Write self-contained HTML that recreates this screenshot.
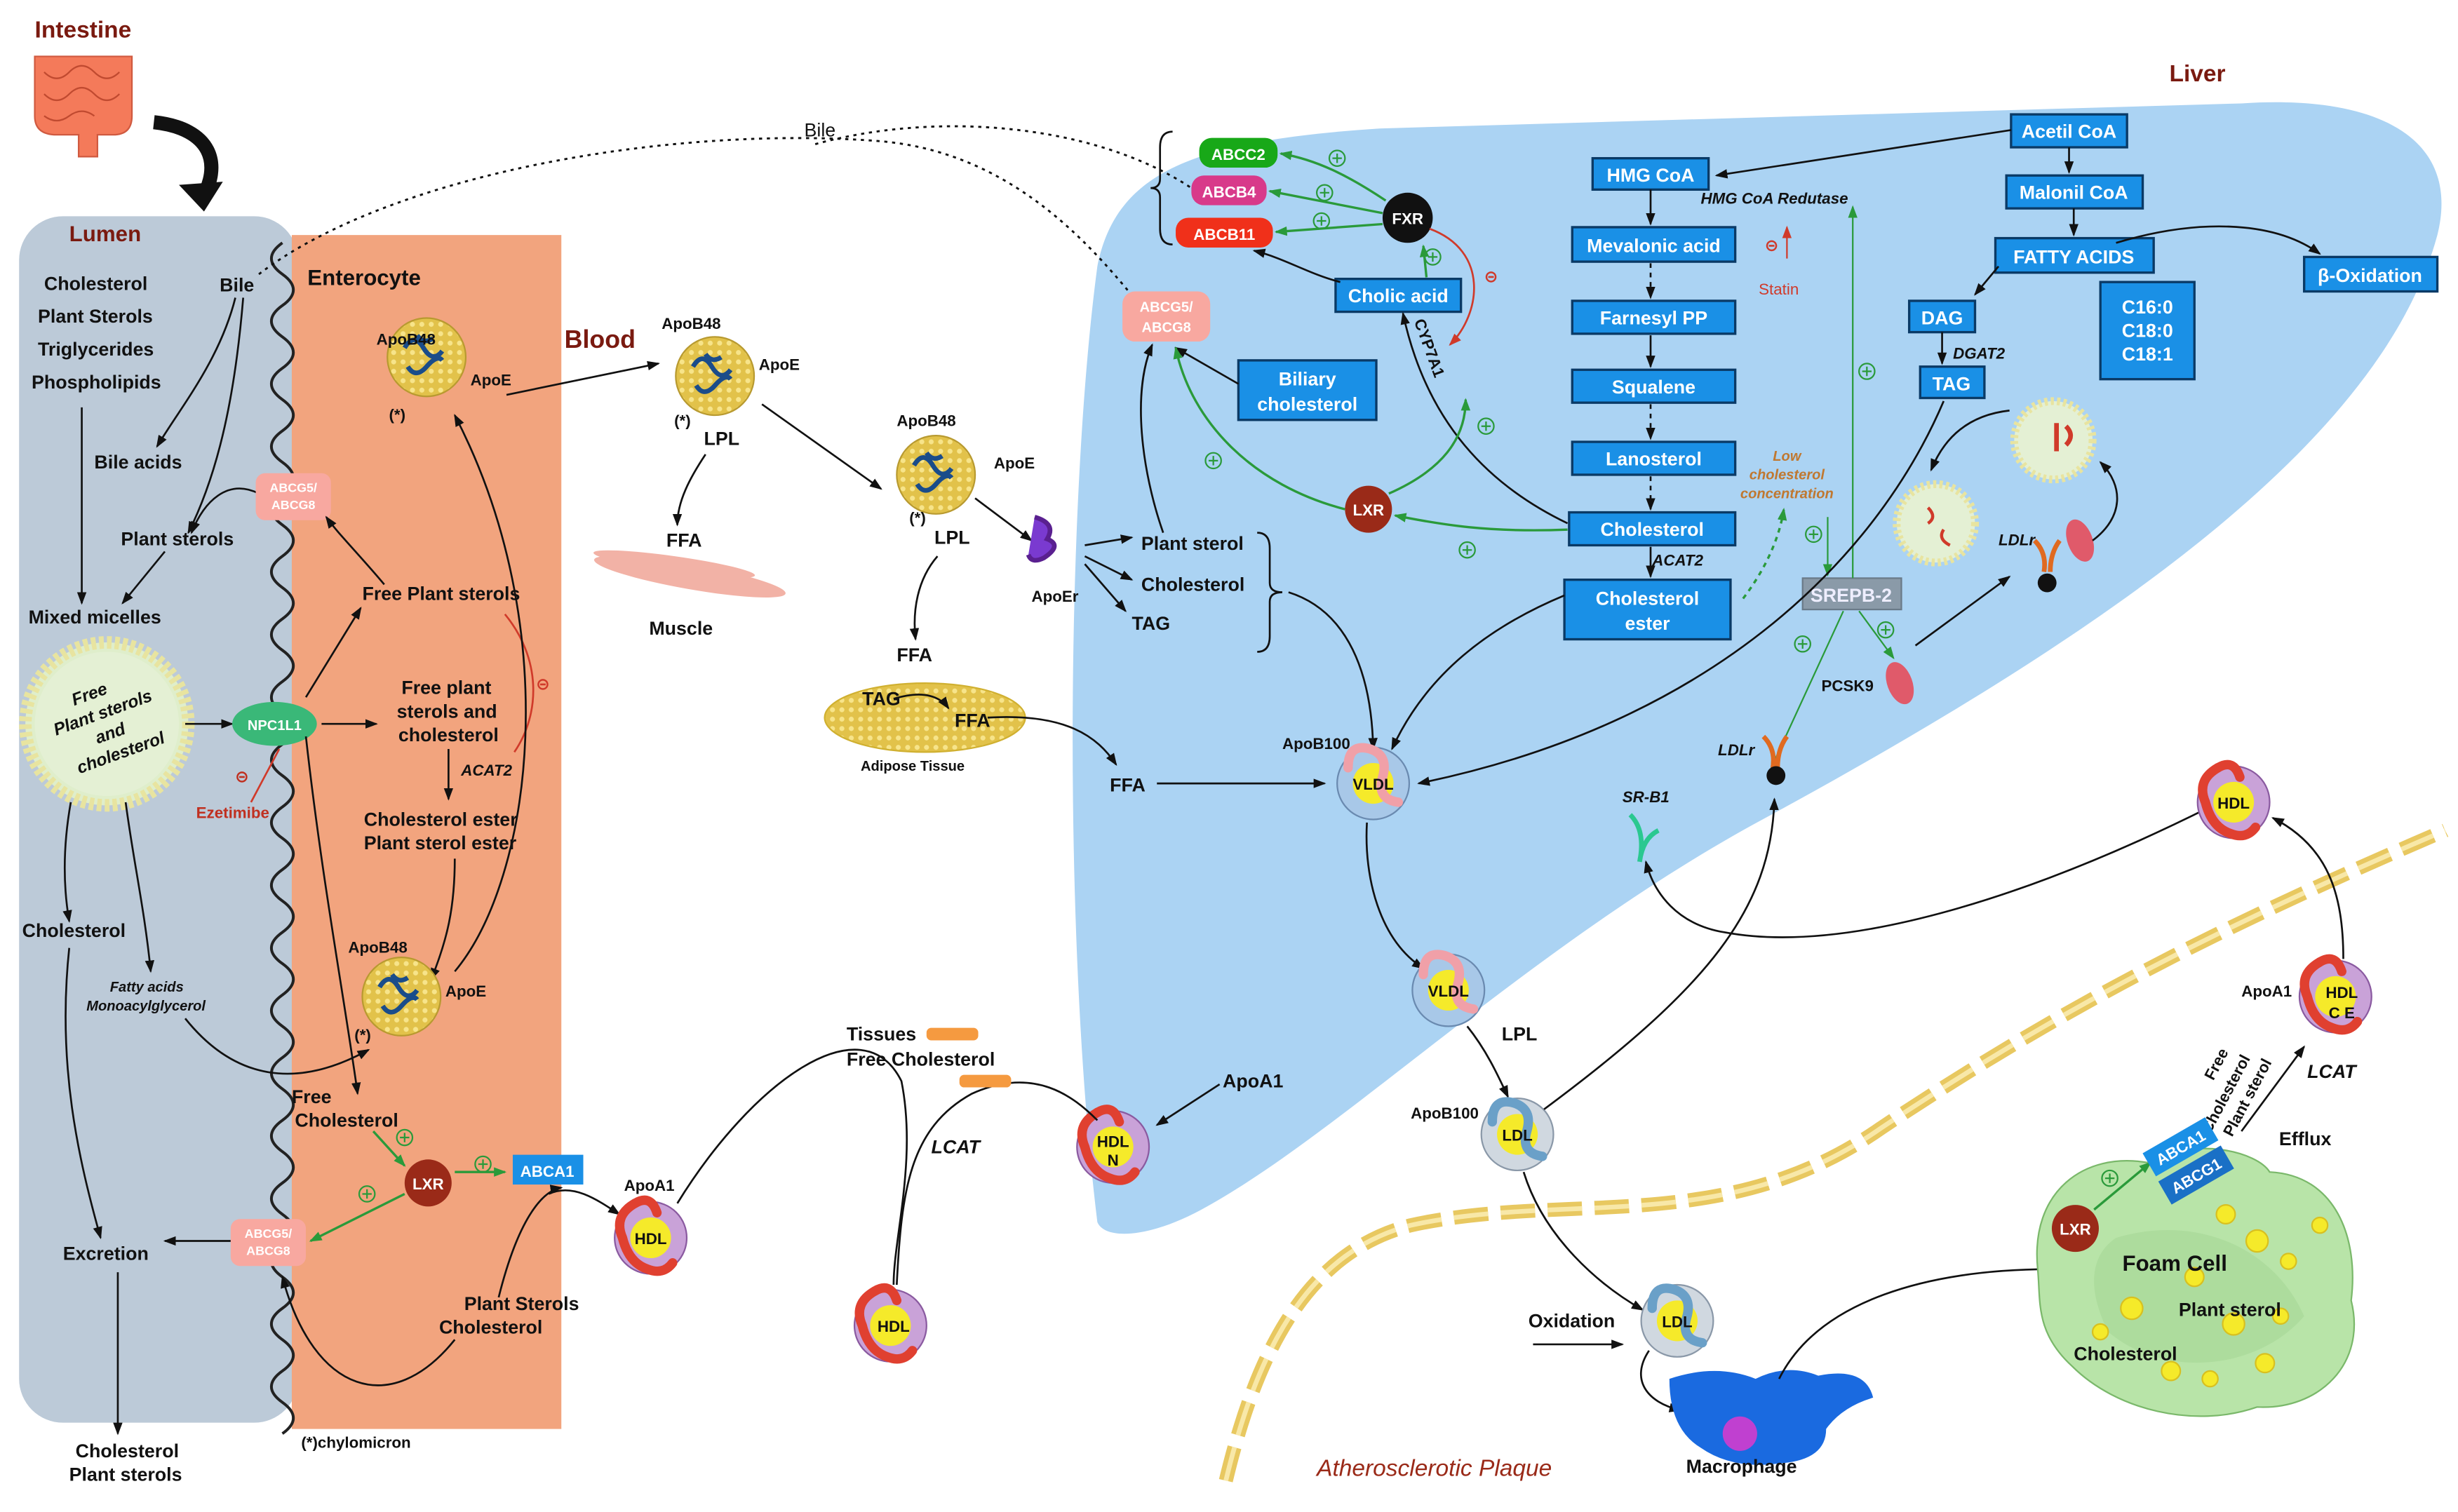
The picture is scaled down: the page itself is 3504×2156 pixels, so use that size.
<!DOCTYPE html>
<html><head><meta charset="utf-8"><style>
html,body{margin:0;padding:0;background:#fff;overflow:hidden}
svg{display:block}
text{font-family:"Liberation Sans",sans-serif;font-weight:bold;fill:#111}
.b{fill:#1a90e6;stroke:#0a3a66;stroke-width:1.5}
.bt{fill:#fff;font-size:12px;text-anchor:middle}
.t{font-size:12px}
.s{font-size:10px}
.i{font-style:italic}
.a{fill:none;stroke:#111;stroke-width:1.2;marker-end:url(#ah)}
.g{fill:none;stroke:#2a9a3a;stroke-width:1.5;marker-end:url(#gh)}
.r{fill:none;stroke:#d03a2a;stroke-width:1.2}
.pl{fill:none;stroke:#2a9a3a;stroke-width:1}
</style></head><body>
<svg width="3504" height="2156" viewBox="0 0 1568 965" xmlns="http://www.w3.org/2000/svg">
<defs>
<marker id="ah" markerWidth="8" markerHeight="8" refX="7" refY="4" orient="auto" markerUnits="userSpaceOnUse"><path d="M0,1 L8,4 L0,7 Z" fill="#111"/></marker>
<marker id="gh" markerWidth="8" markerHeight="8" refX="7" refY="4" orient="auto" markerUnits="userSpaceOnUse"><path d="M0,1 L8,4 L0,7 Z" fill="#2a9a3a"/></marker>
<marker id="rh" markerWidth="8" markerHeight="8" refX="7" refY="4" orient="auto" markerUnits="userSpaceOnUse"><path d="M0,1 L8,4 L0,7 Z" fill="#d03a2a"/></marker>
<pattern id="dots" width="6" height="6" patternUnits="userSpaceOnUse"><rect width="6" height="6" fill="#e2c24a"/><circle cx="3" cy="3" r="1.6" fill="#f7e48a"/></pattern>
<g id="plus"><circle r="5" fill="none" stroke="#2a9a3a" stroke-width="1"/><path d="M-3,0H3M0,-3V3" stroke="#2a9a3a" stroke-width="1"/></g>
<g id="lp"><circle r="25" fill="url(#dots)" stroke="#b89a30"/><path d="M-14,-6 q6,-10 12,0 t12,2 M-12,6 q5,8 12,0 t10,-4 M-6,-14 q4,6 10,2" stroke="#1a4c8a" stroke-width="3" fill="none"/></g>
<g id="hdl"><circle r="23" fill="#c9a2d8" stroke="#8a5aa0"/><circle r="13" fill="#f5ea2a"/><path d="M-10,-22 q-14,8 -8,22 q4,16 16,20 q10,4 16,-4" stroke="#e04030" stroke-width="6" fill="none" stroke-linecap="round"/><path d="M-10,-22 q10,-6 14,6" stroke="#e04030" stroke-width="6" fill="none" stroke-linecap="round"/></g>
<g id="vldl"><circle r="23" fill="#a8c8e8" stroke="#6a8ab0"/><circle r="13" fill="#f5ea2a"/><path d="M-16,-10 q0,-16 14,-12 q12,4 8,18 q-4,14 10,16" stroke="#f0a0a8" stroke-width="6" fill="none" stroke-linecap="round"/></g>
<g id="ldl"><circle r="23" fill="#d0d8e0" stroke="#8a98a8"/><circle r="13" fill="#f5ea2a"/><path d="M-16,-8 q0,-16 14,-12 q12,4 8,18 q-4,14 10,16" stroke="#6aa0c8" stroke-width="6" fill="none" stroke-linecap="round"/></g>
</defs>

<!-- Liver -->
<path d="M700,780 C678,600 680,320 700,170 C712,110 760,90 880,82 L1430,66 C1520,60 1570,90 1555,150 C1520,280 1350,400 1130,520 C980,600 860,720 770,770 C735,790 705,792 700,780 Z" fill="#abd3f3"/>

<!-- Lumen & enterocyte -->
<rect x="12" y="138" width="178" height="770" rx="28" fill="#bccad8"/>
<rect x="186" y="150" width="172" height="762" fill="#f2a47e"/>
<path d="M180,155 q-14,10 0,20 q14,10 0,20 q-14,10 0,20 q14,10 0,20 q-14,10 0,20 q14,10 0,20 q-14,10 0,20 q14,10 0,20 q-14,10 0,20 q14,10 0,20 q-14,10 0,20 q14,10 0,20 q-14,10 0,20 q14,10 0,20 q-14,10 0,20 q14,10 0,20 q-14,10 0,20 q14,10 0,20 q-14,10 0,20 q14,10 0,20 q-14,10 0,20 q14,10 0,20 q-14,10 0,20 q14,10 0,20 q-14,10 0,20 q14,10 0,20 q-14,10 0,20 q14,10 0,20 q-14,10 0,20 q14,10 0,20 q-14,10 0,20 q14,10 0,20 q-14,10 0,20 q14,10 0,20 q-14,10 0,20 q14,10 0,20 q-14,10 0,20 q14,10 0,20" fill="none" stroke="#222" stroke-width="1.8"/>

<!-- Intestine icon -->
<text x="22" y="24" style="font-size:15px;fill:#7a1a10">Intestine</text>
<path d="M22,36 h62 v38 q0,12 -12,12 h-10 v14 h-12 v-14 h-14 q-14,0 -14,-12 z" fill="#f47a5a" stroke="#d05a40"/>
<path d="M28,46 q8,8 16,0 t16,0 t16,0 M28,60 q8,8 16,0 t16,0 t16,0 M28,74 q8,6 16,0 t16,0" stroke="#c04a30" fill="none"/>
<path d="M98,78 C135,82 142,105 128,128" stroke="#111" stroke-width="9" fill="none"/>
<path d="M114,118 L130,135 L142,116 Z" fill="#111"/>

<text x="44" y="154" style="font-size:14px;fill:#7a1a10">Lumen</text>
<text x="196" y="182" style="font-size:14px">Enterocyte</text>
<text x="360" y="222" style="font-size:16px;fill:#7a1a10">Blood</text>
<text x="1384" y="52" style="font-size:15px;fill:#7a1a10">Liver</text>

<text x="28" y="185" class="t">Cholesterol</text>
<text x="24" y="206" class="t">Plant Sterols</text>
<text x="24" y="227" class="t">Triglycerides</text>
<text x="20" y="248" class="t">Phospholipids</text>
<text x="140" y="186" class="t">Bile</text>
<text x="60" y="299" class="t">Bile acids</text>
<text x="77" y="348" class="t">Plant sterols</text>
<text x="18" y="398" class="t">Mixed micelles</text>
<text x="14" y="598" class="t">Cholesterol</text>
<text x="70" y="633" class="s i" style="font-size:9px">Fatty acids</text>
<text x="55" y="645" class="s i" style="font-size:9px">Monoacylglycerol</text>
<text x="40" y="804" class="t">Excretion</text>
<text x="48" y="930" class="t">Cholesterol</text>
<text x="44" y="945" class="t">Plant sterols</text>
<text x="192" y="924" class="s">(*)chylomicron</text>

<!-- micelle -->
<circle cx="68" cy="462" r="52" fill="#dfeecb" stroke="#e8e4a0" stroke-width="8" stroke-dasharray="3 2"/>
<circle cx="68" cy="462" r="46" fill="#e4f0d4"/>
<text transform="translate(68,462) rotate(-20)" style="font-size:11px;font-style:italic" text-anchor="middle"><tspan x="-4" y="-18">Free</tspan><tspan x="0" y="-4">Plant sterols</tspan><tspan x="0" y="10">and</tspan><tspan x="2" y="24">cholesterol</tspan></text>

<!-- lumen arrows -->
<path class="a" d="M150,190 C140,230 115,260 100,285"/>
<path class="a" d="M155,190 C150,250 140,300 120,340"/>
<path class="a" d="M52,260 V385"/>
<path class="a" d="M105,352 L78,385"/>
<path class="a" d="M165,315 C145,305 130,320 122,340"/>
<path class="a" d="M45,512 C40,540 40,565 44,588"/>
<path class="a" d="M80,512 C85,550 92,580 96,620"/>
<path class="a" d="M44,605 C36,680 50,740 64,790"/>
<path class="a" d="M148,792 H105"/>
<path class="a" d="M75,812 V915"/>
<path class="a" d="M118,650 C150,690 190,695 235,670"/>
<path class="a" d="M118,462 H148"/>

<!-- Enterocyte -->
<ellipse cx="175" cy="462" rx="27" ry="14" fill="#3ab878"/>
<text x="175" y="466" class="s" text-anchor="middle" style="fill:#fff;font-size:9px">NPC1L1</text>
<rect x="163" y="302" width="48" height="30" rx="6" fill="#f8a8a0"/>
<text x="187" y="314" class="s" text-anchor="middle" style="fill:#fff;font-size:8px">ABCG5/</text><text x="187" y="325" class="s" text-anchor="middle" style="fill:#fff;font-size:8px">ABCG8</text>
<rect x="147" y="778" width="48" height="30" rx="6" fill="#f8a8a0"/>
<text x="171" y="790" class="s" text-anchor="middle" style="fill:#fff;font-size:8px">ABCG5/</text><text x="171" y="801" class="s" text-anchor="middle" style="fill:#fff;font-size:8px">ABCG8</text>
<text x="125" y="522" class="s" style="fill:#c03020">Ezetimibe</text>
<text x="150" y="499" class="s" style="fill:#c03020">⊝</text>
<path class="r" d="M178,478 L160,512"/>

<text x="231" y="383" class="t">Free Plant sterols</text>
<text x="256" y="443" class="t">Free plant</text>
<text x="253" y="458" class="t">sterols and</text>
<text x="254" y="473" class="t">cholesterol</text>
<text x="294" y="495" class="s i">ACAT2</text>
<text x="232" y="527" class="t">Cholesterol ester</text>
<text x="232" y="542" class="t">Plant sterol ester</text>
<text x="186" y="704" class="t">Free</text>
<text x="188" y="719" class="t">Cholesterol</text>
<text x="296" y="836" class="t">Plant Sterols</text>
<text x="280" y="851" class="t">Cholesterol</text>
<path class="a" d="M195,445 L230,388"/>
<path class="a" d="M245,373 C230,355 215,340 208,330"/>
<path class="a" d="M205,462 H240"/>
<path class="a" d="M286,478 V510"/>
<path class="r" d="M322,392 C345,420 345,455 328,480"/>
<text x="342" y="440" class="s" style="fill:#d03a2a">⊝</text>
<path class="a" d="M290,548 C290,580 285,600 275,625"/>
<path class="a" d="M195,470 C205,560 220,640 228,698"/>
<path class="a" d="M290,620 C340,560 360,400 290,265"/>
<path class="g" d="M238,722 L258,744"/>
<use href="#plus" x="258" y="726"/>
<circle cx="273" cy="755" r="15" fill="#9a2a18"/>
<text x="273" y="759" class="s" text-anchor="middle" style="fill:#fff">LXR</text>
<path class="g" d="M290,748 H322"/><use href="#plus" x="308" y="743"/>
<path class="g" d="M258,762 L198,792"/><use href="#plus" x="234" y="762"/>
<rect x="327" y="737" width="45" height="19" fill="#1a90e6"/>
<text x="349" y="751" class="s" text-anchor="middle" style="fill:#fff">ABCA1</text>
<path class="a" d="M350,762 C365,755 380,765 395,775"/>
<path class="a" d="M318,828 C330,780 345,760 358,758"/>
<path class="a" d="M290,855 C250,905 200,890 180,815"/>

<use href="#lp" x="272" y="228"/><text x="240" y="220" class="s">ApoB48</text><text x="300" y="246" class="s">ApoE</text><text x="248" y="268" class="s">(*)</text>
<use href="#lp" x="256" y="636"/><text x="222" y="608" class="s">ApoB48</text><text x="284" y="636" class="s">ApoE</text><text x="226" y="664" class="s">(*)</text>
<path class="a" d="M323,252 L420,232"/>

<!-- Blood -->
<use href="#lp" x="456" y="240"/><text x="422" y="210" class="s">ApoB48</text><text x="484" y="236" class="s">ApoE</text><text x="430" y="272" class="s">(*)</text>
<text x="449" y="284" class="t">LPL</text>
<path class="a" d="M486,258 L562,312"/>
<path class="a" d="M450,290 C440,305 432,320 432,335"/>
<text x="425" y="349" class="t">FFA</text>
<g fill="#f0a090" opacity="0.8"><ellipse cx="440" cy="368" rx="62" ry="8" transform="rotate(10 440 368)"/><ellipse cx="430" cy="360" rx="52" ry="5" transform="rotate(8 430 360)"/></g>
<text x="414" y="405" class="t">Muscle</text>
<use href="#lp" x="597" y="303"/><text x="572" y="272" class="s">ApoB48</text><text x="634" y="299" class="s">ApoE</text><text x="580" y="334" class="s">(*)</text>
<text x="596" y="347" class="t">LPL</text>
<path class="a" d="M622,318 L658,345"/>
<path class="a" d="M598,355 C585,370 582,390 584,408"/>
<text x="572" y="422" class="t">FFA</text>
<ellipse cx="590" cy="458" rx="64" ry="22" fill="url(#dots)" stroke="#d0b030"/>
<text x="550" y="450" class="t">TAG</text><text x="609" y="464" class="t">FFA</text>
<path class="a" d="M570,446 C590,440 600,445 605,452"/>
<text x="549" y="492" class="s" style="font-size:9px">Adipose Tissue</text>
<path class="a" d="M630,458 C680,455 700,470 712,488"/>
<text x="708" y="505" class="t">FFA</text>
<path class="a" d="M738,500 H845"/>
<path d="M660,330 q14,4 8,14 q10,4 -2,12 q-8,4 -10,-2" fill="#7a3ad0" stroke="#5a2090" stroke-width="3"/>
<text x="658" y="384" class="s">ApoEr</text>
<path class="a" d="M692,348 L722,343"/><path class="a" d="M692,355 L722,370"/><path class="a" d="M692,360 L718,390"/>
<text x="728" y="351" class="t">Plant sterol</text>
<text x="728" y="377" class="t">Cholesterol</text>
<text x="722" y="402" class="t">TAG</text>
<path d="M802,340 q8,0 8,10 v22 q0,6 8,6 q-8,0 -8,6 v22 q0,10 -8,10" fill="none" stroke="#111" stroke-width="1.2"/>
<path class="a" d="M822,378 C860,390 875,430 876,478"/>
<path class="a" d="M742,340 C728,300 722,250 735,220"/>

<!-- HDL / tissues path -->
<use href="#hdl" x="415" y="790"/><text x="398" y="760" class="s">ApoA1</text><text x="415" y="794" class="s" text-anchor="middle">HDL</text>
<use href="#hdl" x="568" y="846"/><text x="570" y="850" class="s" text-anchor="middle">HDL</text>
<use href="#hdl" x="710" y="732"/><text x="710" y="732" class="s" text-anchor="middle">HDL</text><text x="710" y="744" class="s" text-anchor="middle">N</text>
<path d="M432,768 C480,690 550,640 575,690 C585,740 570,790 570,820" fill="none" stroke="#111" stroke-width="1.2"/>
<path d="M572,820 C575,760 580,720 620,698 C660,680 685,700 700,715" fill="none" stroke="#111" stroke-width="1.2"/>
<text x="540" y="664" class="t">Tissues</text><rect x="591" y="656" width="33" height="8" rx="3" fill="#f59a40"/>
<text x="540" y="680" class="t">Free Cholesterol</text>
<rect x="612" y="686" width="33" height="8" rx="3" fill="#f59a40"/>
<text x="594" y="736" class="t i">LCAT</text>
<text x="780" y="694" class="t">ApoA1</text>
<path class="a" d="M778,692 L738,718"/>

<!-- Liver content -->
<rect class="b" x="1016" y="101" width="74" height="20"/><text class="bt" x="1053" y="116">HMG CoA</text>
<rect class="b" x="1003" y="145" width="104" height="22"/><text class="bt" x="1055" y="161">Mevalonic acid</text>
<rect class="b" x="1003" y="192" width="104" height="21"/><text class="bt" x="1055" y="207">Farnesyl PP</text>
<rect class="b" x="1003" y="236" width="104" height="21"/><text class="bt" x="1055" y="251">Squalene</text>
<rect class="b" x="1003" y="282" width="104" height="21"/><text class="bt" x="1055" y="297">Lanosterol</text>
<rect class="b" x="1001" y="327" width="106" height="21"/><text class="bt" x="1054" y="342">Cholesterol</text>
<rect class="b" x="998" y="370" width="106" height="38"/><text class="bt" x="1051" y="386">Cholesterol</text><text class="bt" x="1051" y="402">ester</text>
<rect class="b" x="1283" y="73" width="74" height="21"/><text class="bt" x="1320" y="88">Acetil CoA</text>
<rect class="b" x="1280" y="112" width="87" height="21"/><text class="bt" x="1323" y="127">Malonil CoA</text>
<rect class="b" x="1273" y="152" width="101" height="22"/><text class="bt" x="1323" y="168">FATTY ACIDS</text>
<rect class="b" x="1470" y="164" width="85" height="22"/><text class="bt" x="1512" y="180">β-Oxidation</text>
<rect class="b" x="1218" y="192" width="42" height="20"/><text class="bt" x="1239" y="207">DAG</text>
<rect class="b" x="1225" y="234" width="41" height="20"/><text class="bt" x="1245" y="249">TAG</text>
<rect class="b" x="1340" y="180" width="60" height="62"/><text class="bt" x="1370" y="200">C16:0</text><text class="bt" x="1370" y="215">C18:0</text><text class="bt" x="1370" y="230">C18:1</text>
<rect class="b" x="852" y="178" width="80" height="21"/><text class="bt" x="892" y="193">Cholic acid</text>
<rect class="b" x="790" y="230" width="88" height="38"/><text class="bt" x="834" y="246">Biliary</text><text class="bt" x="834" y="262">cholesterol</text>
<rect x="1150" y="369" width="63" height="20" fill="#8a9aa8" stroke="#6a7a88"/><text class="bt" x="1181" y="384" style="fill:#eef">SREPB-2</text>

<path class="a" d="M1283,83 L1095,112"/>
<path class="a" d="M1053,121 V143"/>
<path class="a" d="M1053,168 V190" stroke-dasharray="3 3"/>
<path class="a" d="M1053,214 V234"/>
<path class="a" d="M1053,258 V280" stroke-dasharray="3 3"/>
<path class="a" d="M1053,304 V325" stroke-dasharray="3 3"/>
<path class="a" d="M1053,349 V368"/>
<text x="1054" y="361" class="s i">ACAT2</text>
<path class="a" d="M1320,94 V110"/><path class="a" d="M1323,133 V150"/>
<path class="a" d="M1350,155 C1400,140 1450,140 1480,162"/>
<path class="a" d="M1275,170 L1260,188"/>
<path class="a" d="M1239,212 V232"/>
<text x="1246" y="229" class="s i">DGAT2</text>
<text x="1085" y="130" class="s i">HMG CoA Redutase</text>
<path d="M1140,165 V145" stroke="#d03a2a" stroke-width="1" marker-end="url(#rh)"/>
<text x="1126" y="160" class="s" style="fill:#d03a2a">⊝</text>
<text x="1122" y="188" class="s" style="fill:#d03a2a;font-weight:normal">Statin</text>
<text x="1140" y="294" class="s i" text-anchor="middle" style="fill:#c07830;font-size:9px">Low</text>
<text x="1140" y="306" class="s i" text-anchor="middle" style="fill:#c07830;font-size:9px">cholesterol</text>
<text x="1140" y="318" class="s i" text-anchor="middle" style="fill:#c07830;font-size:9px">concentration</text>
<path d="M1112,382 C1125,365 1135,345 1138,325" fill="none" stroke="#2a9a3a" stroke-width="1.5" stroke-dasharray="3 3" marker-end="url(#gh)"/>
<path class="pl" d="M1166,330 V367" marker-end="url(#gh)"/><use href="#plus" x="1157" y="341"/>
<path class="pl" d="M1182,369 V132" marker-end="url(#gh)"/><use href="#plus" x="1191" y="237"/>
<path class="pl" d="M1176,390 L1130,490" marker-end="url(#gh)"/><use href="#plus" x="1150" y="411"/>
<path class="pl" d="M1186,390 L1208,420" marker-end="url(#gh)"/><use href="#plus" x="1203" y="402"/>
<text x="1162" y="441" class="s">PCSK9</text>
<ellipse cx="1212" cy="436" rx="8" ry="14" fill="#e05a6a" transform="rotate(-20 1212 436)"/>
<path class="a" d="M1222,412 L1282,368"/>
<text x="1096" y="482" class="s i">LDLr</text>
<path d="M1125,470 q8,8 6,20 M1140,470 q-6,8 -6,20" stroke="#e06a20" stroke-width="3" fill="none"/><circle cx="1133" cy="495" r="6" fill="#111"/>
<text x="1275" y="348" class="s i">LDLr</text>
<path d="M1298,345 q8,8 6,20 M1314,345 q-6,8 -6,20" stroke="#e06a20" stroke-width="3" fill="none"/><circle cx="1306" cy="372" r="6" fill="#111"/>
<ellipse cx="1327" cy="345" rx="8" ry="14" fill="#e05a6a" transform="rotate(-20 1327 345)"/>
<circle cx="1310" cy="281" r="25" fill="#e4f0d4" stroke="#e8e4a0" stroke-width="5" stroke-dasharray="2 2"/>
<circle cx="1235" cy="334" r="25" fill="#e4f0d4" stroke="#e8e4a0" stroke-width="5" stroke-dasharray="2 2"/>
<path d="M1230,324 q6,6 0,10 M1240,338 q-4,6 4,10" stroke="#d03a2a" stroke-width="2" fill="none"/>
<path d="M1312,270 v18 M1318,272 q6,6 0,12" stroke="#d03a2a" stroke-width="3" fill="none"/>
<path class="a" d="M1282,262 C1255,265 1240,280 1232,300"/>
<path class="a" d="M1335,345 C1355,330 1355,310 1340,295"/>

<!-- transporter region -->
<rect x="765" y="88" width="50" height="19" rx="8" fill="#18a818"/><text class="s" x="790" y="102" text-anchor="middle" style="fill:#fff">ABCC2</text>
<rect x="760" y="112" width="48" height="19" rx="8" fill="#d83a8a"/><text class="s" x="784" y="126" text-anchor="middle" style="fill:#fff">ABCB4</text>
<rect x="750" y="139" width="62" height="19" rx="8" fill="#f0301a"/><text class="s" x="781" y="153" text-anchor="middle" style="fill:#fff">ABCB11</text>
<path d="M748,84 q-8,0 -8,10 v20 q0,6 -6,6 q6,0 6,6 v20 q0,10 8,10" fill="none" stroke="#111" stroke-width="1.2"/>
<circle cx="898" cy="139" r="16" fill="#111"/><text class="s" x="898" y="143" text-anchor="middle" style="fill:#fff">FXR</text>
<path class="g" d="M884,128 C860,112 840,102 817,98"/><use href="#plus" x="853" y="101"/>
<path class="g" d="M882,136 L810,122"/><use href="#plus" x="845" y="123"/>
<path class="g" d="M882,143 L814,148"/><use href="#plus" x="843" y="141"/>
<path class="g" d="M910,177 L908,157"/><use href="#plus" x="914" y="164"/>
<path d="M912,146 C950,160 945,200 925,220" fill="none" stroke="#d03a2a" stroke-width="1.2" marker-end="url(#rh)"/>
<text x="947" y="180" class="s" style="fill:#d03a2a">⊝</text>
<path class="a" d="M855,180 C835,175 820,165 800,160"/>
<rect x="716" y="186" width="56" height="32" rx="8" fill="#f8a8a0"/>
<text x="744" y="199" class="s" text-anchor="middle" style="fill:#fff;font-size:9px">ABCG5/</text><text x="744" y="212" class="s" text-anchor="middle" style="fill:#fff;font-size:9px">ABCG8</text>
<path class="a" d="M790,245 L750,222"/>
<text transform="translate(902,205) rotate(70)" class="s">CYP7A1</text>
<path class="a" d="M1000,334 C950,310 910,270 895,200"/>
<circle cx="873" cy="325" r="15" fill="#9a2a18"/><text class="s" x="873" y="329" text-anchor="middle" style="fill:#fff">LXR</text>
<path class="g" d="M1000,338 C950,340 920,335 890,329"/><use href="#plus" x="936" y="351"/>
<path class="g" d="M886,315 C920,300 935,280 935,255"/><use href="#plus" x="948" y="272"/>
<path class="g" d="M858,325 C800,310 760,270 750,222"/><use href="#plus" x="774" y="294"/>
<text x="513" y="87" class="t" style="font-weight:normal">Bile</text>
<path d="M165,175 C250,110 430,80 560,90 C640,96 690,150 720,186" fill="none" stroke="#111" stroke-width="1.3" stroke-dasharray="2 3"/>
<path d="M520,92 C600,70 700,80 760,120" fill="none" stroke="#111" stroke-width="1.3" stroke-dasharray="2 3"/>

<!-- plaque dashes -->
<path d="M782,945 C800,870 830,800 900,782 C1000,760 1100,790 1200,720 C1320,640 1420,590 1560,530" fill="none" stroke="#e8c860" stroke-width="9" stroke-dasharray="22 8"/>
<path d="M782,945 C800,870 830,800 900,782 C1000,760 1100,790 1200,720 C1320,640 1420,590 1560,530" fill="none" stroke="#f8e8a8" stroke-width="3" stroke-dasharray="22 8"/>
<text x="840" y="942" style="font-size:15px;font-style:italic;font-weight:normal;fill:#9a2a18">Atherosclerotic Plaque</text>

<!-- VLDL/LDL -->
<use href="#vldl" x="876" y="500"/><text class="s" x="876" y="504" text-anchor="middle">VLDL</text><text x="818" y="478" class="s">ApoB100</text>
<path class="a" d="M998,380 C950,400 910,430 888,478"/>
<path class="a" d="M1240,256 C1200,350 1100,460 905,500"/>
<path class="a" d="M872,525 C870,560 880,600 908,618"/>
<use href="#vldl" x="924" y="632"/><text class="s" x="924" y="636" text-anchor="middle">VLDL</text>
<text x="958" y="664" class="t">LPL</text>
<path class="a" d="M936,655 C948,670 955,685 962,700"/>
<use href="#ldl" x="968" y="724"/><text class="s" x="968" y="728" text-anchor="middle">LDL</text><text x="900" y="714" class="s">ApoB100</text>
<path class="a" d="M985,708 C1090,630 1130,580 1132,510"/>
<path class="a" d="M972,748 C985,790 1020,820 1048,836"/>
<use href="#ldl" x="1070" y="843"/><text class="s" x="1070" y="847" text-anchor="middle">LDL</text>
<text x="975" y="847" class="t">Oxidation</text>
<path class="a" d="M978,858 L1035,858"/>
<path class="a" d="M1052,862 C1040,880 1050,895 1072,900"/>
<path d="M1065,880 q30,-10 55,0 q20,-10 40,-2 q30,-6 35,14 q-20,6 -30,20 q0,20 -30,22 q-30,4 -50,-10 q-20,-12 -20,-44 z" fill="#1a6ae0"/>
<circle cx="1110" cy="915" r="11" fill="#c040d0"/>
<text x="1111" y="940" class="t" text-anchor="middle">Macrophage</text>
<path class="a" d="M1135,880 C1160,830 1230,810 1310,810"/>
<text x="1035" y="512" class="s i">SR-B1</text>
<path d="M1040,520 q10,10 6,30 M1058,530 q-10,5 -12,20" stroke="#2ac890" stroke-width="3" fill="none"/>
<path class="a" d="M1410,515 C1300,570 1180,610 1100,595 C1070,590 1055,570 1050,550"/>
<use href="#hdl" x="1425" y="512"/><text class="s" x="1425" y="516" text-anchor="middle">HDL</text>
<use href="#hdl" x="1490" y="636"/><text class="s" x="1494" y="637" text-anchor="middle">HDL</text><text class="s" x="1494" y="650" text-anchor="middle">C E</text>
<text x="1430" y="636" class="s">ApoA1</text>
<path class="a" d="M1495,612 C1495,570 1485,540 1450,522"/>
<text x="1472" y="688" class="t i">LCAT</text>
<path class="a" d="M1430,722 L1470,668"/>
<text x="1454" y="731" class="t">Efflux</text>
<text transform="translate(1412,690) rotate(-62)" class="s">Free</text>
<text transform="translate(1410,724) rotate(-62)" class="s">Cholesterol</text>
<text transform="translate(1424,726) rotate(-62)" class="s">Plant sterol</text>

<!-- Foam cell -->
<path d="M1300,810 C1295,760 1330,735 1370,742 C1400,725 1440,735 1448,748 C1490,750 1505,790 1500,830 C1510,870 1480,900 1440,898 C1400,912 1350,900 1322,872 C1298,850 1302,830 1300,810 Z" fill="#b8e4a8" stroke="#7ab86a"/>
<path d="M1350,790 C1400,775 1450,795 1470,840 C1440,875 1380,880 1345,850 C1330,820 1335,800 1350,790 Z" fill="#a8d898" opacity="0.7"/>
<g fill="#f5ea2a" stroke="#d8c020"><circle cx="1420" cy="775" r="6"/><circle cx="1440" cy="792" r="7"/><circle cx="1460" cy="805" r="5"/><circle cx="1400" cy="815" r="6"/><circle cx="1425" cy="845" r="7"/><circle cx="1455" cy="840" r="5"/><circle cx="1360" cy="835" r="7"/><circle cx="1340" cy="850" r="5"/><circle cx="1385" cy="875" r="6"/><circle cx="1410" cy="880" r="5"/><circle cx="1480" cy="782" r="5"/><circle cx="1445" cy="870" r="6"/></g>
<circle cx="1324" cy="784" r="15" fill="#9a2a18"/><text class="s" x="1324" y="788" text-anchor="middle" style="fill:#fff">LXR</text>
<path class="g" d="M1336,772 L1372,742"/><use href="#plus" x="1346" y="752"/>
<rect x="1368" y="724" width="46" height="17" fill="#1a90e6" transform="rotate(-30 1390 732)"/><text class="s" x="1391" y="736" text-anchor="middle" style="fill:#fff" transform="rotate(-30 1391 732)">ABCA1</text>
<rect x="1378" y="742" width="46" height="17" fill="#1a70c6" transform="rotate(-30 1400 750)"/><text class="s" x="1401" y="754" text-anchor="middle" style="fill:#fff" transform="rotate(-30 1401 750)">ABCG1</text>
<text x="1354" y="811" style="font-size:14px">Foam Cell</text>
<text x="1390" y="840" class="t">Plant sterol</text>
<text x="1323" y="868" class="t">Cholesterol</text>
</svg>
</body></html>
